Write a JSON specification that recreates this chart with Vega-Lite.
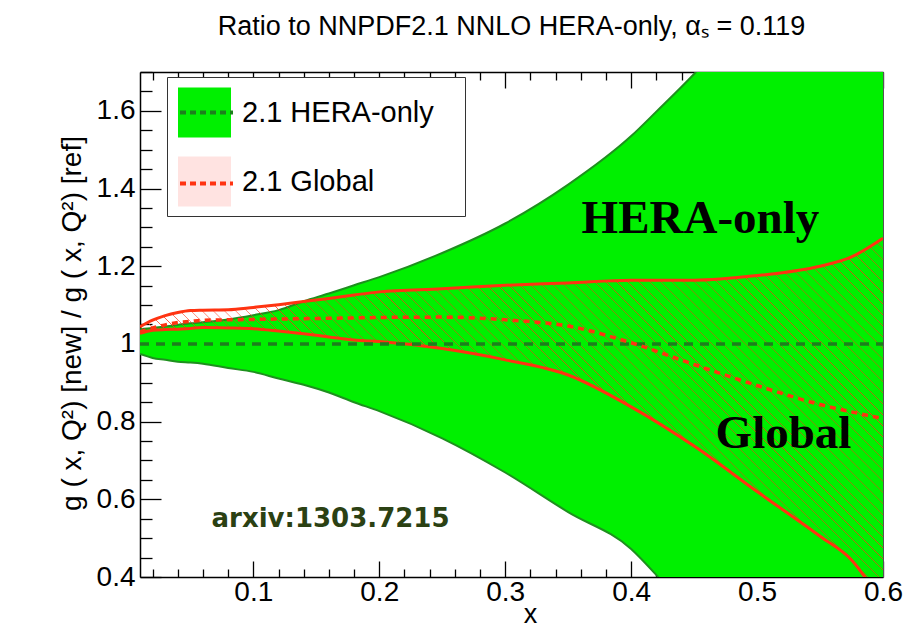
{
  "$schema": "https://vega.github.io/schema/vega-lite/v6.json",
  "width": 743,
  "height": 505,
  "autosize": {"type": "none"},
  "padding": {"left": 140, "top": 72, "right": 20, "bottom": 51},
  "background": "white",
  "title": {"text": "Ratio to NNPDF2.1 NNLO HERA-only,    αₛ = 0.119", "font": "Liberation Sans", "fontSize": 27, "fontWeight": "normal", "color": "black", "anchor": "middle", "offset": 30},
  "config": {
    "view": {"stroke": null},
    "axis": {"domainColor": "black", "tickColor": "black", "labelFont": "Liberation Sans", "titleFont": "Liberation Sans", "labelColor": "black", "titleColor": "black", "grid": false, "domainWidth": 1.5, "tickWidth": 1.3, "titleFontWeight": "normal"}
  },
  "data": {"values": [
    {"set": "2.1 HERA-only", "x": 0.01, "lo": 0.974, "c": 1, "hi": 1.038},
    {"set": "2.1 HERA-only", "x": 0.02, "lo": 0.964, "c": 1, "hi": 1.041},
    {"set": "2.1 HERA-only", "x": 0.03, "lo": 0.959, "c": 1, "hi": 1.045},
    {"set": "2.1 HERA-only", "x": 0.04, "lo": 0.954, "c": 1, "hi": 1.049},
    {"set": "2.1 HERA-only", "x": 0.05, "lo": 0.952, "c": 1, "hi": 1.053},
    {"set": "2.1 HERA-only", "x": 0.06, "lo": 0.949, "c": 1, "hi": 1.056},
    {"set": "2.1 HERA-only", "x": 0.08, "lo": 0.938, "c": 1, "hi": 1.063},
    {"set": "2.1 HERA-only", "x": 0.10, "lo": 0.928, "c": 1, "hi": 1.074},
    {"set": "2.1 HERA-only", "x": 0.12, "lo": 0.911, "c": 1, "hi": 1.087},
    {"set": "2.1 HERA-only", "x": 0.14, "lo": 0.895, "c": 1, "hi": 1.110},
    {"set": "2.1 HERA-only", "x": 0.16, "lo": 0.875, "c": 1, "hi": 1.130},
    {"set": "2.1 HERA-only", "x": 0.18, "lo": 0.850, "c": 1, "hi": 1.151},
    {"set": "2.1 HERA-only", "x": 0.20, "lo": 0.827, "c": 1, "hi": 1.172},
    {"set": "2.1 HERA-only", "x": 0.25, "lo": 0.757, "c": 1, "hi": 1.234},
    {"set": "2.1 HERA-only", "x": 0.30, "lo": 0.669, "c": 1, "hi": 1.310},
    {"set": "2.1 HERA-only", "x": 0.35, "lo": 0.567, "c": 1, "hi": 1.410},
    {"set": "2.1 HERA-only", "x": 0.40, "lo": 0.472, "c": 1, "hi": 1.535},
    {"set": "2.1 HERA-only", "x": 0.42, "lo": 0.405, "c": 1, "hi": 1.598},
    {"set": "2.1 HERA-only", "x": 0.45, "lo": 0.29, "c": 1, "hi": 1.695},
    {"set": "2.1 HERA-only", "x": 0.50, "lo": 0.10, "c": 1, "hi": 1.88},
    {"set": "2.1 HERA-only", "x": 0.55, "lo": -0.12, "c": 1, "hi": 2.08},
    {"set": "2.1 HERA-only", "x": 0.60, "lo": -0.35, "c": 1, "hi": 2.30},
    {"set": "2.1 Global", "x": 0.01, "lo": 1.027, "c": 1.031, "hi": 1.044},
    {"set": "2.1 Global", "x": 0.02, "lo": 1.035, "c": 1.041, "hi": 1.061},
    {"set": "2.1 Global", "x": 0.03, "lo": 1.037, "c": 1.049, "hi": 1.073},
    {"set": "2.1 Global", "x": 0.04, "lo": 1.038, "c": 1.055, "hi": 1.081},
    {"set": "2.1 Global", "x": 0.05, "lo": 1.040, "c": 1.058, "hi": 1.086},
    {"set": "2.1 Global", "x": 0.06, "lo": 1.042, "c": 1.061, "hi": 1.087},
    {"set": "2.1 Global", "x": 0.08, "lo": 1.041, "c": 1.062, "hi": 1.088},
    {"set": "2.1 Global", "x": 0.10, "lo": 1.039, "c": 1.063, "hi": 1.094},
    {"set": "2.1 Global", "x": 0.12, "lo": 1.033, "c": 1.064, "hi": 1.101},
    {"set": "2.1 Global", "x": 0.14, "lo": 1.026, "c": 1.065, "hi": 1.109},
    {"set": "2.1 Global", "x": 0.16, "lo": 1.018, "c": 1.066, "hi": 1.117},
    {"set": "2.1 Global", "x": 0.18, "lo": 1.010, "c": 1.067, "hi": 1.126},
    {"set": "2.1 Global", "x": 0.20, "lo": 1.006, "c": 1.068, "hi": 1.134},
    {"set": "2.1 Global", "x": 0.25, "lo": 0.988, "c": 1.069, "hi": 1.142},
    {"set": "2.1 Global", "x": 0.30, "lo": 0.959, "c": 1.062, "hi": 1.151},
    {"set": "2.1 Global", "x": 0.35, "lo": 0.920, "c": 1.046, "hi": 1.157},
    {"set": "2.1 Global", "x": 0.40, "lo": 0.838, "c": 1.003, "hi": 1.164},
    {"set": "2.1 Global", "x": 0.45, "lo": 0.737, "c": 0.947, "hi": 1.164},
    {"set": "2.1 Global", "x": 0.50, "lo": 0.620, "c": 0.893, "hi": 1.176},
    {"set": "2.1 Global", "x": 0.55, "lo": 0.505, "c": 0.844, "hi": 1.200},
    {"set": "2.1 Global", "x": 0.575, "lo": 0.444, "c": 0.825, "hi": 1.224},
    {"set": "2.1 Global", "x": 0.60, "lo": 0.33, "c": 0.808, "hi": 1.272}
  ]},
  "resolve": {"axis": {"x": "independent", "y": "independent"}},
  "layer": [
    {
      "transform": [{"filter": "datum.set == '2.1 HERA-only'"}],
      "mark": {"type": "area", "clip": true, "opacity": 1, "interpolate": "monotone"},
      "encoding": {
        "x": {"field": "x", "type": "quantitative", "scale": {"domain": [0.01, 0.6], "nice": false, "zero": false},
              "axis": {"orient": "bottom", "values": [0.1, 0.2, 0.3, 0.4, 0.5, 0.6], "format": "~g", "ticks": false, "labelFontSize": 28, "labelPadding": 1, "labelOverlap": false, "labelFlush": false, "title": "x", "titleFontSize": 27, "titleX": 390, "titleY": 45, "titleBaseline": "alphabetic"}},
        "y": {"field": "lo", "type": "quantitative", "scale": {"domain": [0.4, 1.7], "nice": false, "zero": false},
              "axis": {"orient": "left", "values": [0.4, 0.6, 0.8, 1, 1.2, 1.4, 1.6], "format": "~g", "ticks": false, "labelFontSize": 28, "labelPadding": 5, "labelOverlap": false, "labelFlush": false, "title": "g ( x, Q²) [new] / g ( x, Q²) [ref]", "titleFontSize": 28, "titleAngle": 270, "titleX": -60, "titleY": 251, "titleBaseline": "alphabetic", "titleAlign": "center"}},
        "y2": {"field": "hi"},
        "fill": {"field": "set", "type": "nominal", "scale": {"domain": ["2.1 HERA-only", "2.1 Global"], "range": ["#00f000", "rgba(255,60,40,0.14)"]},
                 "legend": {"orient": "none", "legendX": 27, "legendY": 5, "direction": "vertical", "title": "xx", "titleOrient": "right", "titleColor": "transparent", "titleFontSize": 15, "titlePadding": 5, "padding": 9, "symbolOffset": 2, "symbolType": "M-1,-0.94H1V0.94H-1Z", "symbolSize": 2809, "symbolStrokeWidth": 0, "symbolOpacity": 1, "labelFontSize": 29, "labelFont": "Liberation Sans", "labelColor": "black", "labelOffset": 11, "labelLimit": 500, "rowPadding": 17, "strokeColor": "#333333", "fillColor": "white", "zindex": 1}}
      }
    },
    {
      "transform": [{"filter": "datum.set == '2.1 HERA-only'"}],
      "mark": {"type": "line", "clip": true, "color": "#1e901e", "strokeWidth": 2, "interpolate": "monotone"},
      "encoding": {
        "x": {"field": "x", "type": "quantitative", "scale": {"domain": [0.01, 0.6], "nice": false, "zero": false},
              "axis": {"orient": "bottom", "values": [0.1, 0.2, 0.3, 0.4, 0.5, 0.6], "labels": false, "domain": false, "tickSize": -16, "title": null}},
        "y": {"field": "hi", "type": "quantitative", "scale": {"domain": [0.4, 1.7], "nice": false, "zero": false},
              "axis": {"orient": "left", "values": [0.4, 0.6, 0.8, 1, 1.2, 1.4, 1.6], "labels": false, "domain": false, "tickSize": -21, "title": null}}
      }
    },
    {
      "transform": [{"filter": "datum.set == '2.1 HERA-only'"}],
      "mark": {"type": "line", "clip": true, "color": "#1e901e", "strokeWidth": 2, "interpolate": "monotone"},
      "encoding": {
        "x": {"field": "x", "type": "quantitative", "scale": {"domain": [0.01, 0.6], "nice": false, "zero": false},
              "axis": {"orient": "bottom", "values": [0.02, 0.04, 0.06, 0.08, 0.12, 0.14, 0.16, 0.18, 0.22, 0.24, 0.26, 0.28, 0.32, 0.34, 0.36, 0.38, 0.42, 0.44, 0.46, 0.48, 0.52, 0.54, 0.56, 0.58], "labels": false, "domain": false, "tickSize": -8, "title": null}},
        "y": {"field": "lo", "type": "quantitative", "scale": {"domain": [0.4, 1.7], "nice": false, "zero": false},
              "axis": {"orient": "left", "values": [0.45, 0.5, 0.55, 0.65, 0.7, 0.75, 0.85, 0.9, 0.95, 1.05, 1.1, 1.15, 1.25, 1.3, 1.35, 1.45, 1.5, 1.55, 1.65, 1.7], "labels": false, "domain": false, "tickSize": -12, "title": null}}
      }
    },
    {
      "transform": [{"filter": "datum.set == '2.1 Global'"}],
      "mark": {"type": "area", "clip": true, "opacity": 1, "interpolate": "monotone",
               "fill": {"gradient": "linear", "x1": 0, "y1": 1, "x2": 1.2011, "y2": 0.4083, "stops": [
{"offset":0.0000,"color":"rgba(255,50,20,0)"},{"offset":0.0007,"color":"rgba(255,50,20,0.8)"},{"offset":0.0014,"color":"rgba(255,50,20,0)"},
{"offset":0.0100,"color":"rgba(255,50,20,0)"},{"offset":0.0107,"color":"rgba(255,50,20,0.8)"},{"offset":0.0114,"color":"rgba(255,50,20,0)"},
{"offset":0.0200,"color":"rgba(255,50,20,0)"},{"offset":0.0207,"color":"rgba(255,50,20,0.8)"},{"offset":0.0214,"color":"rgba(255,50,20,0)"},
{"offset":0.0300,"color":"rgba(255,50,20,0)"},{"offset":0.0307,"color":"rgba(255,50,20,0.8)"},{"offset":0.0314,"color":"rgba(255,50,20,0)"},
{"offset":0.0400,"color":"rgba(255,50,20,0)"},{"offset":0.0407,"color":"rgba(255,50,20,0.8)"},{"offset":0.0414,"color":"rgba(255,50,20,0)"},
{"offset":0.0500,"color":"rgba(255,50,20,0)"},{"offset":0.0507,"color":"rgba(255,50,20,0.8)"},{"offset":0.0514,"color":"rgba(255,50,20,0)"},
{"offset":0.0600,"color":"rgba(255,50,20,0)"},{"offset":0.0607,"color":"rgba(255,50,20,0.8)"},{"offset":0.0614,"color":"rgba(255,50,20,0)"},
{"offset":0.0700,"color":"rgba(255,50,20,0)"},{"offset":0.0707,"color":"rgba(255,50,20,0.8)"},{"offset":0.0714,"color":"rgba(255,50,20,0)"},
{"offset":0.0800,"color":"rgba(255,50,20,0)"},{"offset":0.0807,"color":"rgba(255,50,20,0.8)"},{"offset":0.0814,"color":"rgba(255,50,20,0)"},
{"offset":0.0900,"color":"rgba(255,50,20,0)"},{"offset":0.0907,"color":"rgba(255,50,20,0.8)"},{"offset":0.0914,"color":"rgba(255,50,20,0)"},
{"offset":0.1000,"color":"rgba(255,50,20,0)"},{"offset":0.1007,"color":"rgba(255,50,20,0.8)"},{"offset":0.1014,"color":"rgba(255,50,20,0)"},
{"offset":0.1100,"color":"rgba(255,50,20,0)"},{"offset":0.1107,"color":"rgba(255,50,20,0.8)"},{"offset":0.1114,"color":"rgba(255,50,20,0)"},
{"offset":0.1200,"color":"rgba(255,50,20,0)"},{"offset":0.1207,"color":"rgba(255,50,20,0.8)"},{"offset":0.1214,"color":"rgba(255,50,20,0)"},
{"offset":0.1300,"color":"rgba(255,50,20,0)"},{"offset":0.1307,"color":"rgba(255,50,20,0.8)"},{"offset":0.1314,"color":"rgba(255,50,20,0)"},
{"offset":0.1400,"color":"rgba(255,50,20,0)"},{"offset":0.1407,"color":"rgba(255,50,20,0.8)"},{"offset":0.1414,"color":"rgba(255,50,20,0)"},
{"offset":0.1500,"color":"rgba(255,50,20,0)"},{"offset":0.1507,"color":"rgba(255,50,20,0.8)"},{"offset":0.1514,"color":"rgba(255,50,20,0)"},
{"offset":0.1600,"color":"rgba(255,50,20,0)"},{"offset":0.1607,"color":"rgba(255,50,20,0.8)"},{"offset":0.1614,"color":"rgba(255,50,20,0)"},
{"offset":0.1700,"color":"rgba(255,50,20,0)"},{"offset":0.1707,"color":"rgba(255,50,20,0.8)"},{"offset":0.1714,"color":"rgba(255,50,20,0)"},
{"offset":0.1800,"color":"rgba(255,50,20,0)"},{"offset":0.1807,"color":"rgba(255,50,20,0.8)"},{"offset":0.1814,"color":"rgba(255,50,20,0)"},
{"offset":0.1900,"color":"rgba(255,50,20,0)"},{"offset":0.1907,"color":"rgba(255,50,20,0.8)"},{"offset":0.1914,"color":"rgba(255,50,20,0)"},
{"offset":0.2000,"color":"rgba(255,50,20,0)"},{"offset":0.2007,"color":"rgba(255,50,20,0.8)"},{"offset":0.2014,"color":"rgba(255,50,20,0)"},
{"offset":0.2100,"color":"rgba(255,50,20,0)"},{"offset":0.2107,"color":"rgba(255,50,20,0.8)"},{"offset":0.2114,"color":"rgba(255,50,20,0)"},
{"offset":0.2200,"color":"rgba(255,50,20,0)"},{"offset":0.2207,"color":"rgba(255,50,20,0.8)"},{"offset":0.2214,"color":"rgba(255,50,20,0)"},
{"offset":0.2300,"color":"rgba(255,50,20,0)"},{"offset":0.2307,"color":"rgba(255,50,20,0.8)"},{"offset":0.2314,"color":"rgba(255,50,20,0)"},
{"offset":0.2400,"color":"rgba(255,50,20,0)"},{"offset":0.2407,"color":"rgba(255,50,20,0.8)"},{"offset":0.2414,"color":"rgba(255,50,20,0)"},
{"offset":0.2500,"color":"rgba(255,50,20,0)"},{"offset":0.2507,"color":"rgba(255,50,20,0.8)"},{"offset":0.2514,"color":"rgba(255,50,20,0)"},
{"offset":0.2600,"color":"rgba(255,50,20,0)"},{"offset":0.2607,"color":"rgba(255,50,20,0.8)"},{"offset":0.2614,"color":"rgba(255,50,20,0)"},
{"offset":0.2700,"color":"rgba(255,50,20,0)"},{"offset":0.2707,"color":"rgba(255,50,20,0.8)"},{"offset":0.2714,"color":"rgba(255,50,20,0)"},
{"offset":0.2800,"color":"rgba(255,50,20,0)"},{"offset":0.2807,"color":"rgba(255,50,20,0.8)"},{"offset":0.2814,"color":"rgba(255,50,20,0)"},
{"offset":0.2900,"color":"rgba(255,50,20,0)"},{"offset":0.2907,"color":"rgba(255,50,20,0.8)"},{"offset":0.2914,"color":"rgba(255,50,20,0)"},
{"offset":0.3000,"color":"rgba(255,50,20,0)"},{"offset":0.3007,"color":"rgba(255,50,20,0.8)"},{"offset":0.3014,"color":"rgba(255,50,20,0)"},
{"offset":0.3100,"color":"rgba(255,50,20,0)"},{"offset":0.3107,"color":"rgba(255,50,20,0.8)"},{"offset":0.3114,"color":"rgba(255,50,20,0)"},
{"offset":0.3200,"color":"rgba(255,50,20,0)"},{"offset":0.3207,"color":"rgba(255,50,20,0.8)"},{"offset":0.3214,"color":"rgba(255,50,20,0)"},
{"offset":0.3300,"color":"rgba(255,50,20,0)"},{"offset":0.3307,"color":"rgba(255,50,20,0.8)"},{"offset":0.3314,"color":"rgba(255,50,20,0)"},
{"offset":0.3400,"color":"rgba(255,50,20,0)"},{"offset":0.3407,"color":"rgba(255,50,20,0.8)"},{"offset":0.3414,"color":"rgba(255,50,20,0)"},
{"offset":0.3500,"color":"rgba(255,50,20,0)"},{"offset":0.3507,"color":"rgba(255,50,20,0.8)"},{"offset":0.3514,"color":"rgba(255,50,20,0)"},
{"offset":0.3600,"color":"rgba(255,50,20,0)"},{"offset":0.3607,"color":"rgba(255,50,20,0.8)"},{"offset":0.3614,"color":"rgba(255,50,20,0)"},
{"offset":0.3700,"color":"rgba(255,50,20,0)"},{"offset":0.3707,"color":"rgba(255,50,20,0.8)"},{"offset":0.3714,"color":"rgba(255,50,20,0)"},
{"offset":0.3800,"color":"rgba(255,50,20,0)"},{"offset":0.3807,"color":"rgba(255,50,20,0.8)"},{"offset":0.3814,"color":"rgba(255,50,20,0)"},
{"offset":0.3900,"color":"rgba(255,50,20,0)"},{"offset":0.3907,"color":"rgba(255,50,20,0.8)"},{"offset":0.3914,"color":"rgba(255,50,20,0)"},
{"offset":0.4000,"color":"rgba(255,50,20,0)"},{"offset":0.4007,"color":"rgba(255,50,20,0.8)"},{"offset":0.4014,"color":"rgba(255,50,20,0)"},
{"offset":0.4100,"color":"rgba(255,50,20,0)"},{"offset":0.4107,"color":"rgba(255,50,20,0.8)"},{"offset":0.4114,"color":"rgba(255,50,20,0)"},
{"offset":0.4200,"color":"rgba(255,50,20,0)"},{"offset":0.4207,"color":"rgba(255,50,20,0.8)"},{"offset":0.4214,"color":"rgba(255,50,20,0)"},
{"offset":0.4300,"color":"rgba(255,50,20,0)"},{"offset":0.4307,"color":"rgba(255,50,20,0.8)"},{"offset":0.4314,"color":"rgba(255,50,20,0)"},
{"offset":0.4400,"color":"rgba(255,50,20,0)"},{"offset":0.4407,"color":"rgba(255,50,20,0.8)"},{"offset":0.4414,"color":"rgba(255,50,20,0)"},
{"offset":0.4500,"color":"rgba(255,50,20,0)"},{"offset":0.4507,"color":"rgba(255,50,20,0.8)"},{"offset":0.4514,"color":"rgba(255,50,20,0)"},
{"offset":0.4600,"color":"rgba(255,50,20,0)"},{"offset":0.4607,"color":"rgba(255,50,20,0.8)"},{"offset":0.4614,"color":"rgba(255,50,20,0)"},
{"offset":0.4700,"color":"rgba(255,50,20,0)"},{"offset":0.4707,"color":"rgba(255,50,20,0.8)"},{"offset":0.4714,"color":"rgba(255,50,20,0)"},
{"offset":0.4800,"color":"rgba(255,50,20,0)"},{"offset":0.4807,"color":"rgba(255,50,20,0.8)"},{"offset":0.4814,"color":"rgba(255,50,20,0)"},
{"offset":0.4900,"color":"rgba(255,50,20,0)"},{"offset":0.4907,"color":"rgba(255,50,20,0.8)"},{"offset":0.4914,"color":"rgba(255,50,20,0)"},
{"offset":0.5000,"color":"rgba(255,50,20,0)"},{"offset":0.5007,"color":"rgba(255,50,20,0.8)"},{"offset":0.5014,"color":"rgba(255,50,20,0)"},
{"offset":0.5100,"color":"rgba(255,50,20,0)"},{"offset":0.5107,"color":"rgba(255,50,20,0.8)"},{"offset":0.5114,"color":"rgba(255,50,20,0)"},
{"offset":0.5200,"color":"rgba(255,50,20,0)"},{"offset":0.5207,"color":"rgba(255,50,20,0.8)"},{"offset":0.5214,"color":"rgba(255,50,20,0)"},
{"offset":0.5300,"color":"rgba(255,50,20,0)"},{"offset":0.5307,"color":"rgba(255,50,20,0.8)"},{"offset":0.5314,"color":"rgba(255,50,20,0)"},
{"offset":0.5400,"color":"rgba(255,50,20,0)"},{"offset":0.5407,"color":"rgba(255,50,20,0.8)"},{"offset":0.5414,"color":"rgba(255,50,20,0)"},
{"offset":0.5500,"color":"rgba(255,50,20,0)"},{"offset":0.5507,"color":"rgba(255,50,20,0.8)"},{"offset":0.5514,"color":"rgba(255,50,20,0)"},
{"offset":0.5600,"color":"rgba(255,50,20,0)"},{"offset":0.5607,"color":"rgba(255,50,20,0.8)"},{"offset":0.5614,"color":"rgba(255,50,20,0)"},
{"offset":0.5700,"color":"rgba(255,50,20,0)"},{"offset":0.5707,"color":"rgba(255,50,20,0.8)"},{"offset":0.5714,"color":"rgba(255,50,20,0)"},
{"offset":0.5800,"color":"rgba(255,50,20,0)"},{"offset":0.5807,"color":"rgba(255,50,20,0.8)"},{"offset":0.5814,"color":"rgba(255,50,20,0)"},
{"offset":0.5900,"color":"rgba(255,50,20,0)"},{"offset":0.5907,"color":"rgba(255,50,20,0.8)"},{"offset":0.5914,"color":"rgba(255,50,20,0)"},
{"offset":0.6000,"color":"rgba(255,50,20,0)"},{"offset":0.6007,"color":"rgba(255,50,20,0.8)"},{"offset":0.6014,"color":"rgba(255,50,20,0)"},
{"offset":0.6100,"color":"rgba(255,50,20,0)"},{"offset":0.6107,"color":"rgba(255,50,20,0.8)"},{"offset":0.6114,"color":"rgba(255,50,20,0)"},
{"offset":0.6200,"color":"rgba(255,50,20,0)"},{"offset":0.6207,"color":"rgba(255,50,20,0.8)"},{"offset":0.6214,"color":"rgba(255,50,20,0)"},
{"offset":0.6300,"color":"rgba(255,50,20,0)"},{"offset":0.6307,"color":"rgba(255,50,20,0.8)"},{"offset":0.6314,"color":"rgba(255,50,20,0)"},
{"offset":0.6400,"color":"rgba(255,50,20,0)"},{"offset":0.6407,"color":"rgba(255,50,20,0.8)"},{"offset":0.6414,"color":"rgba(255,50,20,0)"},
{"offset":0.6500,"color":"rgba(255,50,20,0)"},{"offset":0.6507,"color":"rgba(255,50,20,0.8)"},{"offset":0.6514,"color":"rgba(255,50,20,0)"},
{"offset":0.6600,"color":"rgba(255,50,20,0)"},{"offset":0.6607,"color":"rgba(255,50,20,0.8)"},{"offset":0.6614,"color":"rgba(255,50,20,0)"},
{"offset":0.6700,"color":"rgba(255,50,20,0)"},{"offset":0.6707,"color":"rgba(255,50,20,0.8)"},{"offset":0.6714,"color":"rgba(255,50,20,0)"},
{"offset":0.6800,"color":"rgba(255,50,20,0)"},{"offset":0.6807,"color":"rgba(255,50,20,0.8)"},{"offset":0.6814,"color":"rgba(255,50,20,0)"},
{"offset":0.6900,"color":"rgba(255,50,20,0)"},{"offset":0.6907,"color":"rgba(255,50,20,0.8)"},{"offset":0.6914,"color":"rgba(255,50,20,0)"},
{"offset":0.7000,"color":"rgba(255,50,20,0)"},{"offset":0.7007,"color":"rgba(255,50,20,0.8)"},{"offset":0.7014,"color":"rgba(255,50,20,0)"},
{"offset":0.7100,"color":"rgba(255,50,20,0)"},{"offset":0.7107,"color":"rgba(255,50,20,0.8)"},{"offset":0.7114,"color":"rgba(255,50,20,0)"},
{"offset":0.7200,"color":"rgba(255,50,20,0)"},{"offset":0.7207,"color":"rgba(255,50,20,0.8)"},{"offset":0.7214,"color":"rgba(255,50,20,0)"},
{"offset":0.7300,"color":"rgba(255,50,20,0)"},{"offset":0.7307,"color":"rgba(255,50,20,0.8)"},{"offset":0.7314,"color":"rgba(255,50,20,0)"},
{"offset":0.7400,"color":"rgba(255,50,20,0)"},{"offset":0.7407,"color":"rgba(255,50,20,0.8)"},{"offset":0.7414,"color":"rgba(255,50,20,0)"},
{"offset":0.7500,"color":"rgba(255,50,20,0)"},{"offset":0.7507,"color":"rgba(255,50,20,0.8)"},{"offset":0.7514,"color":"rgba(255,50,20,0)"},
{"offset":0.7600,"color":"rgba(255,50,20,0)"},{"offset":0.7607,"color":"rgba(255,50,20,0.8)"},{"offset":0.7614,"color":"rgba(255,50,20,0)"},
{"offset":0.7700,"color":"rgba(255,50,20,0)"},{"offset":0.7707,"color":"rgba(255,50,20,0.8)"},{"offset":0.7714,"color":"rgba(255,50,20,0)"},
{"offset":0.7800,"color":"rgba(255,50,20,0)"},{"offset":0.7807,"color":"rgba(255,50,20,0.8)"},{"offset":0.7814,"color":"rgba(255,50,20,0)"},
{"offset":0.7900,"color":"rgba(255,50,20,0)"},{"offset":0.7907,"color":"rgba(255,50,20,0.8)"},{"offset":0.7914,"color":"rgba(255,50,20,0)"},
{"offset":0.8000,"color":"rgba(255,50,20,0)"},{"offset":0.8007,"color":"rgba(255,50,20,0.8)"},{"offset":0.8014,"color":"rgba(255,50,20,0)"},
{"offset":0.8100,"color":"rgba(255,50,20,0)"},{"offset":0.8107,"color":"rgba(255,50,20,0.8)"},{"offset":0.8114,"color":"rgba(255,50,20,0)"},
{"offset":0.8200,"color":"rgba(255,50,20,0)"},{"offset":0.8207,"color":"rgba(255,50,20,0.8)"},{"offset":0.8214,"color":"rgba(255,50,20,0)"},
{"offset":0.8300,"color":"rgba(255,50,20,0)"},{"offset":0.8307,"color":"rgba(255,50,20,0.8)"},{"offset":0.8314,"color":"rgba(255,50,20,0)"},
{"offset":0.8400,"color":"rgba(255,50,20,0)"},{"offset":0.8407,"color":"rgba(255,50,20,0.8)"},{"offset":0.8414,"color":"rgba(255,50,20,0)"},
{"offset":0.8500,"color":"rgba(255,50,20,0)"},{"offset":0.8507,"color":"rgba(255,50,20,0.8)"},{"offset":0.8514,"color":"rgba(255,50,20,0)"},
{"offset":0.8600,"color":"rgba(255,50,20,0)"},{"offset":0.8607,"color":"rgba(255,50,20,0.8)"},{"offset":0.8614,"color":"rgba(255,50,20,0)"},
{"offset":0.8700,"color":"rgba(255,50,20,0)"},{"offset":0.8707,"color":"rgba(255,50,20,0.8)"},{"offset":0.8714,"color":"rgba(255,50,20,0)"},
{"offset":0.8800,"color":"rgba(255,50,20,0)"},{"offset":0.8807,"color":"rgba(255,50,20,0.8)"},{"offset":0.8814,"color":"rgba(255,50,20,0)"},
{"offset":0.8900,"color":"rgba(255,50,20,0)"},{"offset":0.8907,"color":"rgba(255,50,20,0.8)"},{"offset":0.8914,"color":"rgba(255,50,20,0)"},
{"offset":0.9000,"color":"rgba(255,50,20,0)"},{"offset":0.9007,"color":"rgba(255,50,20,0.8)"},{"offset":0.9014,"color":"rgba(255,50,20,0)"},
{"offset":0.9100,"color":"rgba(255,50,20,0)"},{"offset":0.9107,"color":"rgba(255,50,20,0.8)"},{"offset":0.9114,"color":"rgba(255,50,20,0)"},
{"offset":0.9200,"color":"rgba(255,50,20,0)"},{"offset":0.9207,"color":"rgba(255,50,20,0.8)"},{"offset":0.9214,"color":"rgba(255,50,20,0)"},
{"offset":0.9300,"color":"rgba(255,50,20,0)"},{"offset":0.9307,"color":"rgba(255,50,20,0.8)"},{"offset":0.9314,"color":"rgba(255,50,20,0)"},
{"offset":0.9400,"color":"rgba(255,50,20,0)"},{"offset":0.9407,"color":"rgba(255,50,20,0.8)"},{"offset":0.9414,"color":"rgba(255,50,20,0)"},
{"offset":0.9500,"color":"rgba(255,50,20,0)"},{"offset":0.9507,"color":"rgba(255,50,20,0.8)"},{"offset":0.9514,"color":"rgba(255,50,20,0)"},
{"offset":0.9600,"color":"rgba(255,50,20,0)"},{"offset":0.9607,"color":"rgba(255,50,20,0.8)"},{"offset":0.9614,"color":"rgba(255,50,20,0)"},
{"offset":0.9700,"color":"rgba(255,50,20,0)"},{"offset":0.9707,"color":"rgba(255,50,20,0.8)"},{"offset":0.9714,"color":"rgba(255,50,20,0)"},
{"offset":0.9800,"color":"rgba(255,50,20,0)"},{"offset":0.9807,"color":"rgba(255,50,20,0.8)"},{"offset":0.9814,"color":"rgba(255,50,20,0)"},
{"offset":0.9900,"color":"rgba(255,50,20,0)"},{"offset":0.9907,"color":"rgba(255,50,20,0.8)"},{"offset":0.9914,"color":"rgba(255,50,20,0)"},
{"offset":1.0000,"color":"rgba(255,50,20,0)"}
               ]}},
      "encoding": {
        "x": {"field": "x", "type": "quantitative", "scale": {"domain": [0.01, 0.6], "nice": false, "zero": false},
              "axis": {"orient": "top", "values": [0.1, 0.2, 0.3, 0.4, 0.5, 0.6], "labels": false, "domain": true, "tickSize": -16, "title": null}},
        "y": {"field": "lo", "type": "quantitative", "scale": {"domain": [0.4, 1.7], "nice": false, "zero": false},
              "axis": {"orient": "right", "ticks": false, "labels": false, "domain": true, "domainColor": "#555555", "domainWidth": 1, "title": null}},
        "y2": {"field": "hi"}
      }
    },
    {
      "transform": [{"filter": "datum.set == '2.1 Global'"}],
      "mark": {"type": "line", "clip": true, "color": "#ff3311", "strokeWidth": 3, "interpolate": "monotone"},
      "encoding": {
        "x": {"field": "x", "type": "quantitative", "scale": {"domain": [0.01, 0.6], "nice": false, "zero": false},
              "axis": {"orient": "top", "values": [0.02, 0.04, 0.06, 0.08, 0.12, 0.14, 0.16, 0.18, 0.22, 0.24, 0.26, 0.28, 0.32, 0.34, 0.36, 0.38, 0.42, 0.44, 0.46, 0.48, 0.52, 0.54, 0.56, 0.58], "labels": false, "domain": false, "tickSize": -8, "title": null}},
        "y": {"field": "hi", "type": "quantitative", "scale": {"domain": [0.4, 1.7], "nice": false, "zero": false}, "axis": null}
      }
    },
    {
      "transform": [{"filter": "datum.set == '2.1 Global'"}],
      "mark": {"type": "line", "clip": true, "color": "#ff3311", "strokeWidth": 3, "interpolate": "monotone"},
      "encoding": {
        "x": {"field": "x", "type": "quantitative", "scale": {"domain": [0.01, 0.6], "nice": false, "zero": false}, "axis": null},
        "y": {"field": "lo", "type": "quantitative", "scale": {"domain": [0.4, 1.7], "nice": false, "zero": false}, "axis": null}
      }
    },
    {
      "mark": {"type": "line", "clip": true, "strokeWidth": 3.5, "interpolate": "monotone"},
      "encoding": {
        "x": {"field": "x", "type": "quantitative", "scale": {"domain": [0.01, 0.6], "nice": false, "zero": false}, "axis": null},
        "y": {"field": "c", "type": "quantitative", "scale": {"domain": [0.4, 1.7], "nice": false, "zero": false}, "axis": null},
        "stroke": {"field": "set", "type": "nominal", "sort": ["2.1 HERA-only", "2.1 Global"], "scale": {"range": ["#1d7f1d", "#ff3311"]},
                   "legend": {"orient": "none", "legendX": 27, "legendY": 5, "direction": "vertical", "title": null, "padding": 7, "symbolOffset": 4, "symbolType": "stroke", "symbolSize": 2809, "symbolStrokeWidth": 4, "symbolDash": [6, 4], "symbolOpacity": 1, "labelFontSize": 29, "labelFont": "Liberation Sans", "labelColor": "black", "labelOffset": 11, "labelLimit": 500, "rowPadding": 27, "labelExpr": "''", "zindex": 2}},
        "strokeDash": {"field": "set", "type": "nominal", "scale": {"domain": ["2.1 HERA-only", "2.1 Global"], "range": [[9, 7], [6, 5]]}, "legend": null}
      }
    },
    {
      "data": {"values": [{}]},
      "mark": {"type": "text", "text": "HERA-only", "font": "Liberation Serif", "fontWeight": "bold", "fontSize": 47, "fill": "black", "align": "center", "baseline": "alphabetic"},
      "encoding": {
        "x": {"datum": 0.455, "type": "quantitative", "axis": null},
        "y": {"datum": 1.285, "type": "quantitative", "axis": null}
      }
    },
    {
      "data": {"values": [{}]},
      "mark": {"type": "text", "text": "Global", "font": "Liberation Serif", "fontWeight": "bold", "fontSize": 47, "fill": "black", "align": "center", "baseline": "alphabetic"},
      "encoding": {
        "x": {"datum": 0.521, "type": "quantitative", "axis": null},
        "y": {"datum": 0.732, "type": "quantitative", "axis": null}
      }
    },
    {
      "data": {"values": [{}]},
      "mark": {"type": "text", "text": "arxiv:1303.7215", "font": "DejaVu Sans", "fontWeight": "bold", "fontSize": 26, "fill": "#2b4113", "align": "center", "baseline": "alphabetic"},
      "encoding": {
        "x": {"datum": 0.1613, "type": "quantitative", "axis": null},
        "y": {"datum": 0.5295, "type": "quantitative", "axis": null}
      }
    }
  ]
}
